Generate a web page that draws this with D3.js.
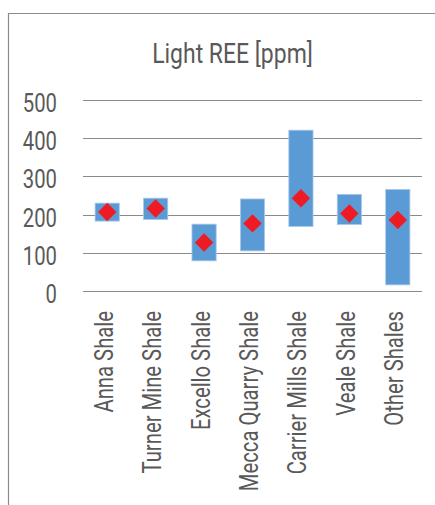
<!DOCTYPE html>
<html>
<head>
<meta charset="utf-8">
<script src="https://cdn.jsdelivr.net/npm/d3@7"></script>
<style>
  html, body { margin: 0; padding: 0; background: #fff; }
  svg { display: block; }
  text { font-family: Roboto, "Noto Sans", sans-serif; fill: #595959; }
</style>
</head>
<body>
<svg id="chart" width="435" height="505"></svg>
<script>
// Light rare-earth element ranges (min–max) and averages per shale unit, in ppm
const categories = ["Anna Shale", "Turner Mine Shale", "Excello Shale", "Mecca Quarry Shale",
                    "Carrier Mills Shale", "Veale Shale", "Other Shales"];
const minValues  = [183, 187, 79, 105, 169, 174, 16];
const maxValues  = [230, 243, 175, 241, 421, 253, 266];
const avgValues  = [207, 216, 127, 177, 243, 203, 186];
const yTicks     = [0, 100, 200, 300, 400, 500];
const title      = "Light REE [ppm]";

const svg = d3.select("#chart");
const W = 435, H = 505;
const plot = { left: 83, right: 422, top: 100, bottom: 291 };
const condense = 0.78;   // horizontal squeeze for a condensed-looking face

// chart-area frame (left and top edges visible)
svg.append("path")
  .attr("d", `M8.5,${H} V13.5 H${W}`)
  .attr("fill", "none")
  .attr("stroke", "#8c8c8c")
  .attr("stroke-width", 1.2);

const x = d3.scaleBand()
  .domain(categories)
  .range([plot.left, plot.right])
  .paddingInner(0.5)
  .paddingOuter(0.25);

const y = d3.scaleLinear()
  .domain([0, 500])
  .range([plot.bottom, plot.top]);

// title
svg.append("text")
  .attr("transform", `translate(232.5,63) scale(0.82,1)`)
  .attr("text-anchor", "middle")
  .style("font-size", "28px")
  .text(title);

// horizontal gridlines
svg.append("g")
  .selectAll("line")
  .data(yTicks)
  .join("line")
  .attr("x1", plot.left)
  .attr("x2", plot.right)
  .attr("y1", d => Math.round(y(d)) + 0.5)
  .attr("y2", d => Math.round(y(d)) + 0.5)
  .attr("stroke", "#8a8a8a")
  .attr("stroke-width", 1.2);

// y axis labels
const yAxis = d3.axisLeft(y).tickValues(yTicks).tickSize(0).tickPadding(0);
const gy = svg.append("g")
  .attr("transform", `translate(57,0)`)
  .call(yAxis);
gy.select(".domain").remove();
gy.selectAll("text")
  .attr("x", 0)
  .attr("dy", "0.44em")
  .attr("transform", `scale(${condense},1)`)
  .style("font-size", "26px")
  .style("font-family", null)
  .attr("fill", "#595959");

// x axis category labels (rotated)
const xAxis = d3.axisBottom(x).tickSize(0).tickPadding(0);
const gx = svg.append("g")
  .attr("transform", `translate(0,${plot.bottom})`)
  .call(xAxis);
gx.select(".domain").remove();
gx.selectAll("text")
  .attr("transform", `translate(5.5,20) rotate(-90) scale(${condense},1)`)
  .attr("x", 0)
  .attr("y", 0)
  .attr("dy", 0)
  .attr("text-anchor", "end")
  .style("font-size", "26px")
  .style("font-family", null)
  .attr("fill", "#595959");

// range bars
svg.append("g")
  .selectAll("rect")
  .data(categories)
  .join("rect")
  .attr("x", d => x(d))
  .attr("width", x.bandwidth())
  .attr("y", (d, i) => y(maxValues[i]))
  .attr("height", (d, i) => y(minValues[i]) - y(maxValues[i]))
  .attr("fill", "#5b9bd5")
  .attr("stroke", "#a9c9ea")
  .attr("stroke-width", 0.8);

// average markers
const diamond = d3.symbol().type(d3.symbolSquare).size(170);
svg.append("g")
  .selectAll("path")
  .data(categories)
  .join("path")
  .attr("d", diamond)
  .attr("transform", (d, i) => `translate(${x(d) + x.bandwidth() / 2},${y(avgValues[i])}) rotate(45)`)
  .attr("fill", "#ed1c24");
</script>
</body>
</html>
